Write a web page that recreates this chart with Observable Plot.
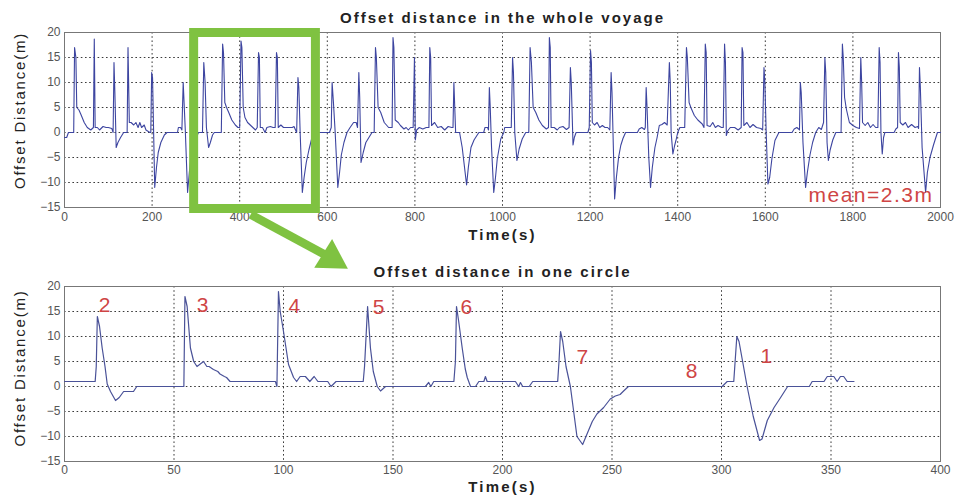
<!DOCTYPE html>
<html>
<head>
<meta charset="utf-8">
<script src="https://cdn.jsdelivr.net/npm/d3@7"></script>
<script src="https://cdn.jsdelivr.net/npm/@observablehq/plot@0.6"></script>
<style>
  body { margin: 0; background: #fff; }
  #wrap { position: relative; width: 955px; height: 498px; overflow: hidden; background: #fff;
          font-family: "Liberation Sans", Arial, sans-serif; }
  #topPanel, #botPanel { position: absolute; left: 0; }
  #topPanel { top: 0; z-index: 2; }
  #botPanel { top: 250px; z-index: 1; }
</style>
</head>
<body>
<div id="wrap"><div id="topPanel"></div><div id="botPanel"></div></div>
<script>
// ---------- data ----------
const voyagePoints = [[0,-1],[5,-1],[9,0],[21,0],[23,17],[26,15],[28,5],[33,4.5],[38,3.5],[45,2],[52,1],[60,0.5],[66,1],[68,18.7],[70,1],[75,1],[80,0.5],[88,1.2],[95,1],[100,1],[108,0.8],[111,0],[113,14],[115,8],[118,-3],[122,-2],[128,-1],[135,0],[143,0],[145,17],[148,2],[152,2],[158,1.5],[163,2],[168,1],[172,2],[176,1],[182,1.5],[186,0.5],[195,0],[197,0],[199,12],[201,11],[206,-11],[210,-7],[214,-4],[220,-2],[228,-0.5],[234,0],[258,0],[260,1],[265,1],[268,0.5],[271,10],[273,6],[276,0],[281,-12],[285,-8],[290,-4],[298,-1.5],[306,0],[315,0],[318,14],[321,10],[324,1],[329,-3],[333,-2],[338,-0.5],[342,0],[358,0],[361,17.7],[363,16],[366,6],[370,5],[375,4],[382,2.5],[390,1.5],[396,1],[400,1],[403,18.3],[405,17],[408,5],[412,3],[418,2],[424,1.5],[430,1],[436,0.5],[440,1],[443,16],[445,15],[447,1],[452,1],[458,0],[462,1],[470,1.2],[476,1],[481,1],[484,16],[486,15],[488,1],[494,1.5],[500,1],[508,1],[515,1],[520,1],[524,1.2],[530,0],[533,11],[535,9],[538,0],[543,-12],[547,-9],[552,-6],[558,-3.5],[565,-1],[572,0],[595,0],[605,0],[609,1],[611,10],[614,6],[618,0],[624,-11],[628,-8],[632,-4.5],[638,-2],[645,0],[652,1],[660,2],[666,2],[669,1],[672,12],[674,7],[677,-6],[682,-4],[688,-2],[695,-1],[702,0],[707,0],[710,17],[712,15],[716,5],[722,4],[730,2],[740,1],[748,1],[750,19],[752,17],[755,2.5],[762,2],[767,1.4],[775,0.7],[780,1],[785,0.5],[790,1],[796,1],[799,15],[801,-1.5],[804,0.5],[810,1],[818,0.7],[826,1],[832,1],[834,17],[836,15],[838,1.4],[845,2],[852,1],[860,1.2],[868,0.5],[876,1.2],[884,1],[887,1],[889,10],[891,5],[893,0],[902,0],[908,-3],[918,-10.5],[922,-7],[928,-3],[935,-1.5],[946,0],[957,0],[960,1],[966,1],[968,0.5],[970,9],[972,5],[975,-3],[980,-12],[984,-9],[988,-5.3],[996,-1.3],[1003,0],[1005,1],[1020,1],[1023,15],[1025,12],[1028,0],[1033,-5.6],[1038,-3.3],[1045,-1.3],[1053,0],[1060,0],[1063,17],[1066,14],[1070,5],[1076,4],[1083,2.5],[1091,1.4],[1100,0.7],[1105,1],[1107,19],[1109,17],[1111,1],[1118,1],[1125,0.5],[1130,1],[1138,1.2],[1146,0.6],[1152,1],[1155,13],[1157,10],[1161,-2.5],[1164,-1],[1168,0],[1195,0],[1198,1],[1201,16.4],[1203,14],[1205,2],[1210,1.5],[1216,2],[1222,1],[1228,1.4],[1234,1],[1240,1],[1245,0.5],[1248,12],[1250,8],[1256,-13.3],[1260,-9],[1265,-5],[1270,-2.6],[1275,-1.2],[1281,0],[1308,0],[1312,0.7],[1318,1],[1324,0.6],[1326,1],[1328,9],[1330,5],[1334,-5],[1338,-11],[1342,-7],[1348,-3],[1353,-1],[1358,1.4],[1364,1.6],[1370,2],[1376,1.5],[1381,14],[1383,10],[1385,0],[1389,-4.3],[1393,-2.6],[1396,-1.6],[1400,0],[1405,1],[1416,1],[1420,17],[1422,15],[1426,6],[1430,5],[1438,3.4],[1446,2.5],[1456,1.7],[1460,1],[1463,17.7],[1465,16],[1467,1.4],[1474,1.2],[1480,2],[1486,1],[1492,1.4],[1500,1],[1504,1],[1507,17.7],[1509,14],[1511,-0.6],[1514,0.3],[1520,1],[1530,1],[1538,0.5],[1545,1],[1547,17],[1549,16],[1551,1.4],[1558,2],[1565,1],[1572,1.6],[1580,1],[1590,0.8],[1594,0.5],[1597,13],[1599,10],[1602,0],[1606,-10.3],[1610,-9],[1615,-5.3],[1622,-1.6],[1631,0],[1661,0],[1666,0.7],[1672,1],[1676,0.7],[1678,0.5],[1680,10],[1682,8],[1686,-2],[1692,-11],[1696,-8],[1702,-4.5],[1708,-2],[1715,0],[1722,1],[1728,0.6],[1733,2],[1736,15],[1738,12],[1741,-2],[1744,-5.6],[1748,-3.5],[1754,-1.5],[1761,0],[1773,0],[1776,17.7],[1778,15],[1781,7],[1785,4.7],[1792,2],[1800,1.4],[1808,1],[1815,0.8],[1818,15],[1820,10],[1822,2],[1828,1.4],[1834,2],[1840,1],[1846,1.6],[1852,1],[1857,1],[1860,17],[1862,14],[1864,0],[1867,-4.3],[1870,-1],[1873,0],[1894,0],[1898,0.7],[1902,1],[1904,16],[1906,13],[1908,2],[1914,1.5],[1920,2],[1926,1],[1934,1.6],[1942,1],[1948,1.2],[1950,0.8],[1952,13],[1954,9],[1958,-3],[1966,-12],[1970,-8],[1976,-5],[1984,-2.5],[1993,0],[2000,0]];

const circlePoints = [[0,1],[14,1],[14.5,4],[15,14],[16,12],[17.2,7.7],[18.5,4],[19.5,0.5],[21,-1],[23.3,-2.8],[25,-2.2],[27,-1],[31.5,-1],[33,0],[54.5,0],[55,18],[56,16],[57.5,7.7],[59,5],[60.5,4],[62,4.5],[63.5,5],[65,4],[66,4],[68,3.4],[70,3],[71,2.5],[73,2],[74,1.8],[75.6,1],[96.3,1],[97,0],[97.7,19],[98.5,15],[100,11],[102.3,4.4],[104.6,1.8],[106,1],[107.6,2],[110,2],[112,1],[114,2],[115.7,1],[120.2,1],[121.7,0],[124,1],[136.4,1],[137,4],[138.4,16],[139.7,7.7],[141,3],[142.8,0],[144.3,-0.9],[146.6,0],[164.8,0],[166.3,0.8],[167.3,0],[168.6,1],[177.8,1],[178.5,5],[179,16],[180,13],[181.6,7.7],[183,3.5],[183.9,1.8],[185.4,0],[187.7,0],[189.2,1],[191.5,1],[192.2,2],[193,1],[205.9,1],[207.4,0],[208.2,0.8],[209.2,0],[212.2,0],[213.8,1],[225.2,1],[225.8,5],[226.5,11],[227.5,9],[229,4],[231,0],[234,-10],[236.6,-11.6],[238.6,-9.5],[241,-7],[243.1,-5.5],[246.2,-4.2],[249.2,-2.5],[251.5,-1.9],[253.7,-1.6],[255.3,-0.9],[257.5,0],[300.3,0],[302.6,1],[305.6,1],[307,10],[308,9],[311.7,0],[314.5,-6],[317.4,-10.8],[318.5,-10.5],[320.9,-6.8],[324,-4.2],[327,-2.2],[330.2,0],[340.1,0],[341.4,1],[346.8,1],[348.3,2],[351.3,2],[352.8,1],[354.3,2],[355.8,2],[357.4,1],[360.5,1]];

const yTicks = [-15, -10, -5, 0, 5, 10, 15, 20];
const voyageXTicks = [0, 200, 400, 600, 800, 1000, 1200, 1400, 1600, 1800, 2000];
const circleXTicks = [0, 50, 100, 150, 200, 250, 300, 350, 400];

const stageNames = ["2", "3", "4", "5", "6", "7", "8", "1"];
const stageTime  = [18.3, 63, 105, 143.4, 183.5, 236.5, 286.3, 320.5];
const stageDist  = [16.3, 16.3, 16.1, 15.9, 15.9, 5.9, 3.1, 6.1];

const meanLabel = "mean=2.3m";
const titleTop = "Offset distance in the whole voyage";
const titleBottom = "Offset distance in one circle";
const xLabel = "Time(s)";
const yLabel = "Offset Distance(m)";
// highlighted window of the voyage (s, m) and callout arrow (s, m in the upper panel)
const highlightWindow = {x1: 296, x2: 574, y1: -15.3, y2: 19.9};
const calloutShaft = [[425, -16.4], [598, -24.6]];
const calloutHead = [[609.4, -25.2]];

// ---------- styling ----------
const FONT = '"Liberation Sans", Arial, sans-serif';
const LINE = "#3d45a0";
const GRID = "#3a3a3a";
const GREEN = "#7fc241";
const RED = "#cf4545";

const voyage = voyagePoints.map(([t, d]) => ({t, d}));
const circle = circlePoints.map(([t, d]) => ({t, d}));
const stages = stageNames.map((s, i) => ({s, t: stageTime[i], d: stageDist[i]}));

function gridMarks(xTicks) {
  return [
    Plot.ruleX(xTicks.slice(1, -1), {stroke: GRID, strokeDasharray: "1.6,2.6", strokeWidth: 1}),
    Plot.ruleY(yTicks.slice(1, -1), {stroke: GRID, strokeDasharray: "1.6,2.6", strokeWidth: 1})
  ];
}
function textMarks(title, xlabelDy, ylabelDy) {
  return [
    Plot.text([title], {frameAnchor: "top", dy: -14.5, lineAnchor: "middle", textAnchor: "middle",
      fontWeight: "bold", fontSize: 15, fill: "#222"}),
    Plot.text([xLabel], {frameAnchor: "bottom", dy: xlabelDy, lineAnchor: "middle", textAnchor: "middle",
      fontWeight: "bold", fontSize: 15, fill: "#222"}),
    Plot.text([yLabel], {frameAnchor: "left", dx: -44, dy: ylabelDy, rotate: -90, lineAnchor: "middle",
      textAnchor: "middle", fontSize: 15, fill: "#222"})
  ];
}
function spread(chart, spacing) {
  d3.select(chart).selectAll("text").each(function () {
    const s = spacing[this.textContent];
    if (s != null) this.style.letterSpacing = s + "px";
  });
  return chart;
}
const spacing = {
  [titleTop]: 2, [titleBottom]: 2, [xLabel]: 2.2, [yLabel]: 1.8, [meanLabel]: 1.5
};

const topChart = Plot.plot({
  width: 955, height: 250,
  marginLeft: 64, marginRight: 15, marginTop: 32, marginBottom: 43,
  style: {fontFamily: FONT, fontSize: "12px", color: "#555", background: "transparent", overflow: "visible"},
  x: {domain: [0, 2000], ticks: voyageXTicks, tickFormat: d3.format("d"), tickSize: 0, tickPadding: 5, label: null},
  y: {domain: [-15, 20], ticks: yTicks, tickFormat: d3.format("d"), tickSize: 0, tickPadding: 4, label: null},
  marks: [
    ...gridMarks(voyageXTicks),
    Plot.frame({stroke: "#777"}),
    Plot.line(voyage, {x: "t", y: "d", stroke: LINE, strokeWidth: 1.1}),
    Plot.text([meanLabel], {frameAnchor: "bottom-right", dx: -7, dy: -12, textAnchor: "end", lineAnchor: "middle",
      fontSize: 21, fill: RED}),
    Plot.rect([highlightWindow], {x1: "x1", x2: "x2", y1: "y1", y2: "y2", fill: "none", stroke: GREEN, strokeWidth: 9}),
    Plot.line(calloutShaft, {x: d => d[0], y: d => d[1], stroke: GREEN, strokeWidth: 8.5, strokeLinecap: "butt"}),
    Plot.dot(calloutHead, {x: d => d[0], y: d => d[1], symbol: "triangle", r: 12.5, fill: GREEN, stroke: "none", rotate: 122}),
    ...textMarks(titleTop, 27.5, -9.5)
  ]
});

const botChart = Plot.plot({
  width: 955, height: 248,
  marginLeft: 64, marginRight: 15, marginTop: 36, marginBottom: 37,
  style: {fontFamily: FONT, fontSize: "12px", color: "#555", background: "transparent", overflow: "visible"},
  x: {domain: [0, 400], ticks: circleXTicks, tickFormat: d3.format("d"), tickSize: 0, tickPadding: 4, label: null},
  y: {domain: [-15, 20], ticks: yTicks, tickFormat: d3.format("d"), tickSize: 0, tickPadding: 4, label: null},
  marks: [
    ...gridMarks(circleXTicks),
    Plot.frame({stroke: "#777"}),
    Plot.line(circle, {x: "t", y: "d", stroke: "#4a5298", strokeWidth: 1.2}),
    Plot.text(stages, {x: "t", y: "d", text: "s", fontSize: 21, fill: RED}),
    ...textMarks(titleBottom, 26, -6)
  ]
});

document.getElementById("topPanel").appendChild(spread(topChart, spacing));
document.getElementById("botPanel").appendChild(spread(botChart, spacing));
</script>
</body>
</html>
